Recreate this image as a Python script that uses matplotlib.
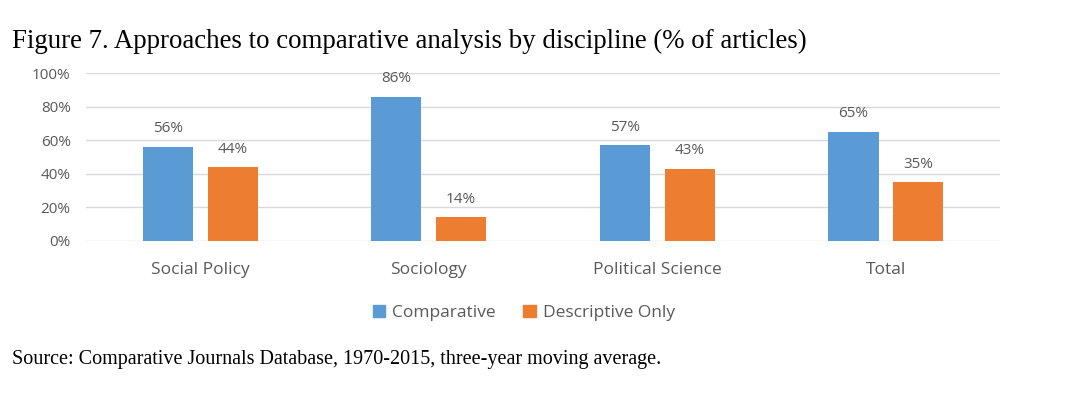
import matplotlib
matplotlib.use('Agg')
import matplotlib.pyplot as plt
import numpy as np
from matplotlib.patches import Patch

categories = ['Social Policy', 'Sociology', 'Political Science', 'Total']
comparative = [56, 86, 57, 65]
descriptive = [44, 14, 43, 35]
y_ticks = [0, 20, 40, 60, 80, 100]

blue = '#5B9BD5'
orange = '#ED7D31'
grey = '#595959'
sans = 'Open Sans'
serif = 'Liberation Serif'

fig = plt.figure(figsize=(10.8, 3.99), dpi=100)
ax = fig.add_axes([0.0796, 0.396, 0.8464, 0.421])

x = np.arange(len(categories))
w = 0.22
off = 0.142
b1 = ax.bar(x - off, comparative, w, color=blue)
b2 = ax.bar(x + off, descriptive, w, color=orange)

for bars, vals in ((b1, comparative), (b2, descriptive)):
    for rect, v in zip(bars, vals):
        ax.text(rect.get_x() + rect.get_width() / 2, v + 6.3, f'{v}%',
                ha='center', va='bottom', fontsize=11, color=grey, family=sans)

ax.set_xlim(-0.5, len(categories) - 0.5)
ax.set_ylim(0, 100)
ax.set_yticks(y_ticks)
ax.set_yticklabels([f'{t}%' for t in y_ticks], family=sans, fontsize=11, color=grey)
ax.set_xticks(x)
ax.set_xticklabels(categories, family=sans, fontsize=12.5, color=grey)
ax.tick_params(axis='both', length=0)
ax.tick_params(axis='y', pad=11)
ax.tick_params(axis='x', pad=15)
ax.grid(axis='y', color='#D9D9D9', linewidth=1)
ax.set_axisbelow(True)
for s in ax.spines.values():
    s.set_visible(False)

handles = [Patch(color=blue, label='Comparative'), Patch(color=orange, label='Descriptive Only')]
fig.legend(handles=handles, loc='center', bbox_to_anchor=(0.485, 0.215), ncol=2, frameon=False,
           prop={'family': sans, 'size': 12.5}, labelcolor=grey, handlelength=0.7,
           handleheight=0.7, handletextpad=0.4, columnspacing=1.6)

fig.text(0.011, 0.895, 'Figure 7. Approaches to comparative analysis by discipline (% of articles)',
         family=serif, fontsize=19.4, color='black', va='center')
fig.text(0.011, 0.1, 'Source: Comparative Journals Database, 1970-2015, three-year moving average.',
         family=serif, fontsize=14.5, color='black', va='center')

fig.savefig('out.png', dpi=100)
